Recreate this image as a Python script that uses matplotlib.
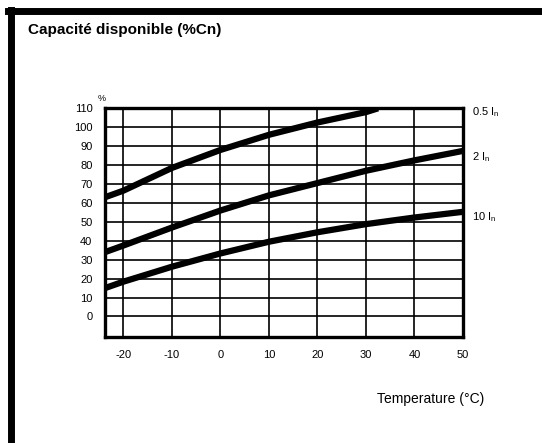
import matplotlib.pyplot as plt
from matplotlib.lines import Line2D

plt.rcParams["font.family"] = ["Liberation Sans", "DejaVu Sans"]
plt.rcParams["axes.unicode_minus"] = False

# temperatures (deg C) and available capacity (%Cn)
temp_05 = [-23.8, -20, -10, 0, 10, 20, 30, 32.5]
cap_05 = [63, 66.5, 78.5, 88, 96, 102.5, 108, 110]

temp_2 = [-23.8, -20, -10, 0, 10, 20, 30, 40, 50]
cap_2 = [34, 37.5, 47, 56, 64, 70.5, 77, 82.5, 87.5]

temp_10 = [-23.8, -20, -10, 0, 10, 20, 30, 40, 50]
cap_10 = [15, 18.4, 26.3, 33.3, 39.5, 44.5, 48.8, 52.3, 55.3]

curve_labels = ["0.5 I$_\\mathregular{n}$", "2 I$_\\mathregular{n}$", "10 I$_\\mathregular{n}$"]
label_y = [108, 84, 52.5]

x_ticks = [-20, -10, 0, 10, 20, 30, 40, 50]
y_ticks = [0, 10, 20, 30, 40, 50, 60, 70, 80, 90, 100, 110]

fig = plt.figure(figsize=(5.42, 4.43), dpi=100)
ax = fig.add_axes([0.1937, 0.2386, 0.6605, 0.5169])

for t, c in [(temp_05, cap_05), (temp_2, cap_2), (temp_10, cap_10)]:
    ax.plot(t, c, color="black", lw=4.5, solid_capstyle="butt", zorder=3)

ax.set_xlim(-23.8, 50)
ax.set_ylim(-11, 110)
ax.set_xticks(x_ticks)
ax.set_yticks(y_ticks)
ax.tick_params(length=0, labelsize=8, pad=9)
ax.grid(True, color="black", lw=1.2)
for s in ax.spines.values():
    s.set_linewidth(2.4)

for lab, y in zip(curve_labels, label_y):
    ax.text(51.8, y, lab, fontsize=8, va="center", ha="left")

ax.text(-24.5, 113, "%", fontsize=6.5, ha="center", va="bottom")

fig.text(0.052, 0.932, "Capacité disponible (%Cn)", fontsize=11,
         fontweight="bold", ha="left", va="center")
fig.text(0.795, 0.10, "Temperature (°C)", fontsize=10, ha="center", va="center")

# outer frame (top and left edges)
fig.add_artist(Line2D([0.015, 1.0], [0.976, 0.976], color="black", lw=5,
                      transform=fig.transFigure))
fig.add_artist(Line2D([0.021, 0.021], [0.978, 0.007], color="black", lw=5,
                      transform=fig.transFigure))

fig.savefig("out.png", dpi=100)
